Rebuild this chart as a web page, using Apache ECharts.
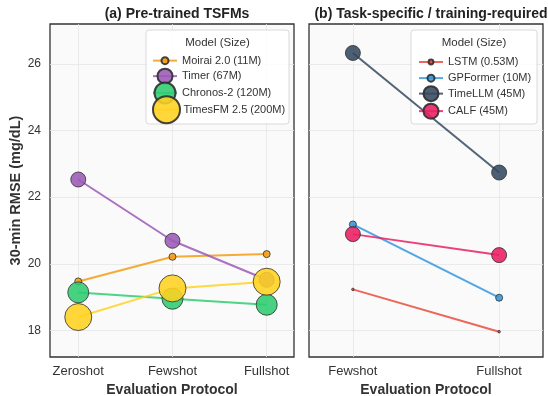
<!DOCTYPE html>
<html>
<head>
<meta charset="utf-8">
<script src="https://cdn.jsdelivr.net/npm/echarts@6/dist/echarts.min.js"></script>
<style>
  html, body { margin: 0; padding: 0; background: #fff; }
  #chart { width: 548px; height: 396px; }
</style>
</head>
<body>
<div id="chart"></div>
<script>
// Evaluation protocols for each panel
const pretrainedProtocols = ['Zeroshot', 'Fewshot', 'Fullshot'];
const taskProtocols = ['Fewshot', 'Fullshot'];
const yTicks = [18, 20, 22, 24, 26];

// (a) pre-trained foundation models: 30-min RMSE per protocol
const moirai = [19.47, 20.21, 20.29];
const timer = [22.53, 20.69, 19.52];
const chronos = [19.14, 18.95, 18.77];
const timesfm = [18.40, 19.26, 19.46];

// (b) task-specific models: 30-min RMSE per protocol
const lstm = [19.23, 17.96];
const gpformer = [21.18, 18.98];
const timellm = [26.33, 22.74];
const calf = [20.89, 20.26];

const FONT = '"Liberation Sans", Arial, sans-serif';

// model name, values, colour, marker diameter, panel index
const models = [
  { name: 'Moirai 2.0 (11M)', data: moirai, color: '#F39C12', size: 7, panel: 0 },
  { name: 'Timer (67M)', data: timer, color: '#9B59B6', size: 15, panel: 0 },
  { name: 'Chronos-2 (120M)', data: chronos, color: '#2ECC71', size: 21, panel: 0 },
  { name: 'TimesFM 2.5 (200M)', data: timesfm, color: '#FFD21F', size: 27, panel: 0 },
  { name: 'LSTM (0.53M)', data: lstm, color: '#E74C3C', size: 2.5, panel: 1 },
  { name: 'GPFormer (10M)', data: gpformer, color: '#3498DB', size: 7, panel: 1 },
  { name: 'TimeLLM (45M)', data: timellm, color: '#34495E', size: 15, panel: 1 },
  { name: 'CALF (45M)', data: calf, color: '#E91E63', size: 15, panel: 1 }
];

const grids = [
  { left: 50, top: 24, width: 244, height: 333 },
  { left: 309, top: 24, width: 234, height: 333 }
];

function xAxisFor(idx, cats, max) {
  return {
    type: 'value', gridIndex: idx, min: -0.3, max: max,
    name: 'Evaluation Protocol', nameLocation: 'middle', nameGap: 25,
    nameTextStyle: { fontFamily: FONT, fontWeight: 'bold', fontSize: 14, color: '#333' },
    axisLine: { show: false },
    axisTick: { show: false, customValues: cats.map((c, i) => i) },
    axisLabel: {
      customValues: cats.map((c, i) => i), margin: 8,
      formatter: v => cats[Math.round(v)] || '',
      fontFamily: FONT, fontSize: 13, color: '#333'
    },
    splitLine: { show: true, lineStyle: { color: '#e6e6e6', width: 0.8 } }
  };
}

function yAxisFor(idx, showLabels) {
  return {
    type: 'value', gridIndex: idx, min: 17.2, max: 27.2,
    name: showLabels ? '30-min RMSE (mg/dL)' : '', nameLocation: 'middle', nameGap: 26,
    nameTextStyle: { fontFamily: FONT, fontWeight: 'bold', fontSize: 14.5, color: '#333' },
    axisLine: { show: false },
    axisTick: { show: false, customValues: yTicks },
    axisLabel: {
      show: showLabels, customValues: yTicks, margin: 9,
      fontFamily: FONT, fontSize: 12, color: '#333'
    },
    splitLine: { show: true, lineStyle: { color: '#e6e6e6', width: 0.8 } }
  };
}

const series = models.map(m => ({
  name: m.name,
  type: 'line',
  xAxisIndex: m.panel, yAxisIndex: m.panel,
  data: m.data.map((v, i) => [i, v]),
  symbol: 'circle',
  symbolSize: m.size,
  showSymbol: true,
  lineStyle: { color: m.color, width: 2, opacity: 0.85 },
  itemStyle: { color: m.color, borderColor: '#2b2b2b', borderWidth: 0.9, opacity: 0.88 },
  emphasis: { disabled: true },
  animation: false
}));

// One legend per entry so each icon keeps its own marker size
const legendRows = [59.5, 77, 94.5, 112];
const legendLeft = [152, 418];
const legends = models.map(m => {
  const row = models.filter(o => o.panel === m.panel).indexOf(m);
  const h = Math.max(m.size / 0.8, 6);
  return {
    data: [m.name],
    left: legendLeft[m.panel], top: legendRows[row] - h / 2,
    padding: 0, itemWidth: 24, itemHeight: h, itemGap: 0, z: 6,
    textStyle: { fontFamily: FONT, fontSize: 11, color: '#333' },
    selectedMode: false
  };
});

// Legend frames and titles
const legendBoxes = [
  { x: 146, y: 30, w: 143, h: 94, cx: 217.5 },
  { x: 411, y: 30, w: 126, h: 94, cx: 474 }
];
const graphics = [];
legendBoxes.forEach(b => {
  graphics.push({
    type: 'rect', shape: { x: b.x, y: b.y, width: b.w, height: b.h, r: 3 },
    style: { fill: 'rgba(255,255,255,0.85)', stroke: '#d0d0d0', lineWidth: 0.8 }, z: 3
  });
  graphics.push({
    type: 'text', x: b.cx, y: 43, z: 6,
    style: { text: 'Model (Size)', fontFamily: FONT, fontSize: 11.5, fill: '#333', align: 'center', verticalAlign: 'middle' }
  });
});

const option = {
  backgroundColor: '#ffffff',
  animation: false,
  title: [
    { text: '(a) Pre-trained TSFMs', left: 172, top: 2, textAlign: 'center',
      textStyle: { fontFamily: FONT, fontWeight: 'bold', fontSize: 14, color: '#222' } },
    { text: '(b) Task-specific / training-required', left: 426, top: 2, textAlign: 'center',
      textStyle: { fontFamily: FONT, fontWeight: 'bold', fontSize: 14, color: '#222' } }
  ],
  grid: grids.map(g => Object.assign({
    show: true, backgroundColor: '#fafafa', borderColor: '#333', borderWidth: 1.3,
    containLabel: false, outerBoundsMode: 'none'
  }, g)),
  xAxis: [xAxisFor(0, pretrainedProtocols, 2.29), xAxisFor(1, taskProtocols, 1.3)],
  yAxis: [yAxisFor(0, true), yAxisFor(1, false)],
  legend: legends,
  graphic: graphics,
  series: series
};

const chart = echarts.init(document.getElementById('chart'), null, { renderer: 'canvas' });
chart.setOption(option);
</script>
</body>
</html>
